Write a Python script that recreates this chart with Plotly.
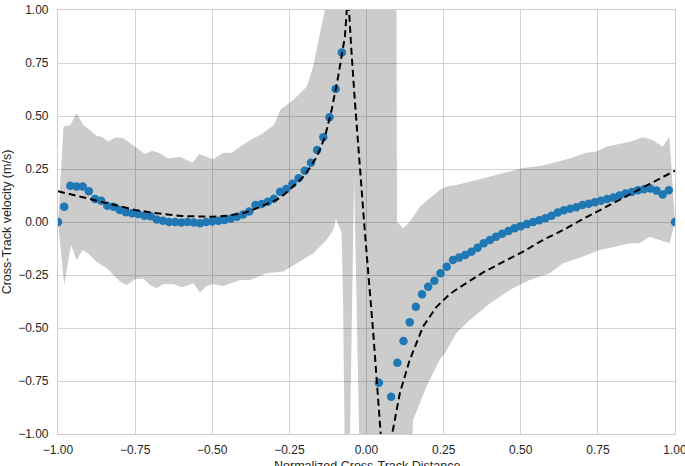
import numpy as np
import plotly.graph_objects as go

# ---- data ----
dot_x = np.round(np.linspace(-1.0, 1.0, 101), 2).tolist()
dot_y = [
    0.0, 0.072, 0.171, 0.167, 0.167, 0.145, 0.108, 0.10, 0.077, 0.072,
    0.057, 0.046, 0.041, 0.038, 0.03, 0.027, 0.012, 0.006, 0.0, 0.0,
    -0.002, 0.0, -0.002, -0.006, 0.0, 0.002, 0.006, 0.01, 0.015, 0.025,
    0.035, 0.05, 0.08, 0.085, 0.096, 0.11, 0.143, 0.156, 0.18, 0.206,
    0.242, 0.28, 0.34, 0.40, 0.494, 0.627, 0.80, None, None, None,
    None, None, -0.758, None, -0.824, -0.664, -0.561, -0.473, -0.40, -0.341,
    -0.305, -0.277, -0.242, -0.211, -0.179, -0.168, -0.156, -0.14, -0.121, -0.10,
    -0.085, -0.07, -0.055, -0.042, -0.03, -0.02, -0.01, 0.0, 0.008, 0.018,
    0.03, 0.045, 0.055, 0.062, 0.07, 0.08, 0.086, 0.093, 0.10, 0.108,
    0.115, 0.125, 0.135, 0.142, 0.15, 0.155, 0.158, 0.148, 0.13, 0.15,
    0.0,
]

model_x = [-1.0, -0.9, -0.8, -0.75, -0.7, -0.6, -0.5, -0.45, -0.4, -0.35,
           -0.3, -0.28, -0.24, -0.2, -0.16, -0.135, -0.113, -0.092, -0.07, -0.06,
           -0.049, -0.038, -0.005, 0.022, 0.05,
           None,
           0.078, 0.092, 0.108, 0.14, 0.183, 0.227, 0.27, 0.3, 0.378, 0.44,
           0.507, 0.572, 0.637, 0.7, 0.8, 0.9, 1.0]
model_y = [0.145, 0.11, 0.075, 0.057, 0.045, 0.028, 0.025, 0.03, 0.041, 0.068,
           0.10, 0.113, 0.165, 0.22, 0.31, 0.40, 0.528, 0.685, 0.874, 1.08,
           0.81, 0.575, -0.053, -0.525, -1.08,
           None,
           -1.04, -0.934, -0.808, -0.651, -0.494, -0.40, -0.34, -0.31, -0.238, -0.19,
           -0.14, -0.085, -0.038, 0.013, 0.089, 0.165, 0.242]

upper_x = [-1.0, -0.982, -0.96, -0.94, -0.918, -0.896, -0.875, -0.858, -0.837, -0.815,
           -0.788, -0.75, -0.718, -0.696, -0.669, -0.643, -0.605, -0.564, -0.542, -0.497,
           -0.464, -0.437, -0.41, -0.367, -0.345, -0.30, -0.28, -0.238, -0.194, -0.173,
           -0.157, -0.135, -0.115, 0.097, 0.099, 0.119, 0.14, 0.173, 0.205, 0.237,
           0.259, 0.291, 0.335, 0.378, 0.40, 0.464, 0.502, 0.572, 0.615, 0.658,
           0.712, 0.745, 0.777, 0.82, 0.853, 0.896, 0.928, 0.96, 0.982, 1.0]
upper_y = [0.0, 0.45, 0.458, 0.513, 0.458, 0.434, 0.406, 0.402, 0.379, 0.398,
           0.395, 0.355, 0.321, 0.336, 0.324, 0.30, 0.308, 0.28, 0.321, 0.296,
           0.327, 0.327, 0.355, 0.395, 0.41, 0.458, 0.528, 0.575, 0.638, 0.733,
           0.843, 1.0, 1.15, 1.15, 0.0, -0.03, 0.0, 0.072, 0.112, 0.151,
           0.167, 0.175, 0.19, 0.206, 0.214, 0.237, 0.253, 0.266, 0.282, 0.30,
           0.327, 0.332, 0.355, 0.368, 0.379, 0.40, 0.387, 0.355, 0.402, 0.0]

lower_x = [-1.0, -0.98, -0.958, -0.94, -0.92, -0.902, -0.875, -0.842, -0.82, -0.799,
           -0.777, -0.75, -0.723, -0.702, -0.68, -0.659, -0.626, -0.599, -0.577, -0.561,
           -0.54, -0.518, -0.497, -0.464, -0.432, -0.41, -0.378, -0.324, -0.27, -0.227,
           -0.173, -0.13, -0.108, -0.099, -0.081, -0.076, -0.07, -0.055, -0.04, -0.022,
           0.145, 0.151, 0.194, 0.237, 0.254, 0.291, 0.335, 0.40, 0.464, 0.529,
           0.594, 0.637, 0.70, 0.756, 0.81, 0.853, 0.885, 0.918, 0.95, 0.982, 1.0]
lower_y = [0.0, -0.297, -0.108, -0.179, -0.132, -0.148, -0.187, -0.218, -0.25, -0.281,
           -0.297, -0.27, -0.266, -0.297, -0.313, -0.292, -0.294, -0.308, -0.297, -0.289,
           -0.333, -0.302, -0.292, -0.302, -0.286, -0.274, -0.274, -0.242, -0.234, -0.195,
           -0.148, -0.085, -0.038, 0.017, -0.05, -0.37, -1.15, -1.15, 0.214, -1.15,
           -1.15, -0.934, -0.777, -0.651, -0.619, -0.525, -0.462, -0.384, -0.321, -0.274,
           -0.242, -0.195, -0.164, -0.132, -0.116, -0.10, -0.10, -0.069, -0.085, -0.10, 0.0]

x_ticks = [-1.0, -0.75, -0.5, -0.25, 0.0, 0.25, 0.5, 0.75, 1.0]
x_tick_text = ["\u22121.00", "\u22120.75", "\u22120.50", "\u22120.25", "0.00", "0.25", "0.50", "0.75", "1.00"]
y_ticks = [-1.0, -0.75, -0.5, -0.25, 0.0, 0.25, 0.5, 0.75, 1.0]
y_tick_text = ["\u22121.00", "\u22120.75", "\u22120.50", "\u22120.25", "0.00", "0.25", "0.50", "0.75", "1.00"]

x_title = "Normalized Cross-Track Distance"
y_title = "Cross-Track velocity (m/s)"

# ---- figure ----
band_x = upper_x + lower_x[::-1]
band_y = upper_y + lower_y[::-1]

fig = go.Figure()
fig.add_trace(go.Scatter(
    x=band_x, y=band_y, mode="lines", fill="toself",
    fillcolor="rgba(0,0,0,0.2)", line=dict(width=0), hoverinfo="skip",
    showlegend=False,
))
fig.add_trace(go.Scatter(
    x=dot_x, y=dot_y, mode="markers",
    marker=dict(size=8.5, color="#1f77b4"), showlegend=False,
))
fig.add_trace(go.Scatter(
    x=model_x, y=model_y, mode="lines",
    line=dict(color="black", width=2, dash="7px,4px"), showlegend=False,
    connectgaps=False,
))

font_family = "Liberation Sans, Arial, sans-serif"
axis_common = dict(
    showgrid=True, gridcolor="#d2d2d2", gridwidth=1, automargin=False,
    zeroline=False, showline=True, linecolor="#cccccc", linewidth=1.2, mirror=True,
    ticks="", tickfont=dict(family=font_family, size=12, color="#262626"),
    ticklabeloverflow="allow",
)
fig.update_layout(
    width=685, height=466,
    margin=dict(l=58, r=10, t=10, b=32),
    paper_bgcolor="white", plot_bgcolor="white",
    font=dict(family=font_family, color="#262626"),
    xaxis=dict(range=[-1, 1], tickvals=x_ticks, ticktext=x_tick_text,
               ticklabelstandoff=4, **axis_common),
    yaxis=dict(range=[-1, 1], tickvals=y_ticks, ticktext=y_tick_text,
               ticklabelstandoff=6,
               title=dict(text=y_title,
                          font=dict(family=font_family, size=12.5, color="#262626"),
                          standoff=8),
               **axis_common),
)
fig.add_annotation(
    text=x_title, xref="paper", yref="paper", x=0.5, y=0,
    xanchor="center", yanchor="top", yshift=-23, showarrow=False,
    font=dict(family=font_family, size=12.5, color="#262626"),
)

fig.write_html("out.html")
